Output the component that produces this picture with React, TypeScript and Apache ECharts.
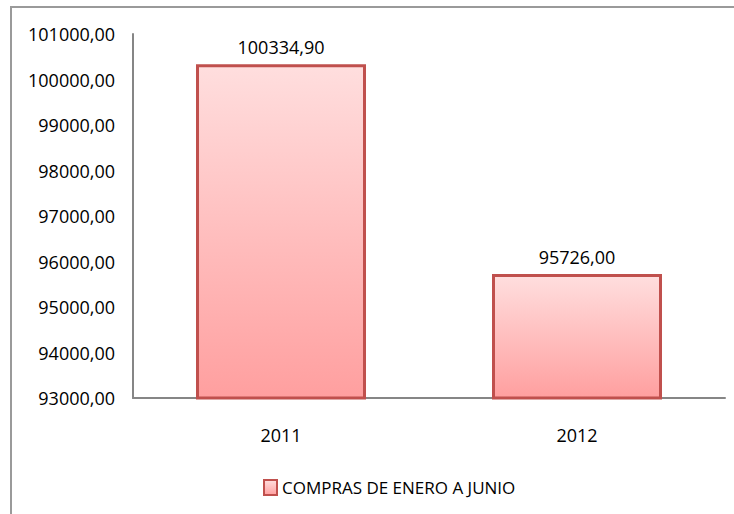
import React, { useEffect, useRef } from "react";
import * as echarts from "echarts";

const categories = ["2011", "2012"];
const seriesName = "COMPRAS DE ENERO A JUNIO";
const values = [100334.9, 95726.0];
const yMin = 93000;
const yMax = 101000;
const yInterval = 1000;

const fmt = (v: number) => v.toFixed(2).replace(".", ",");

export default function App() {
  const ref = useRef<HTMLDivElement>(null);
  useEffect(() => {
    const chart = echarts.init(ref.current!, null, { renderer: "svg" });
    const font = "'Open Sans', sans-serif";
    chart.setOption({
      animation: false,
      backgroundColor: "#ffffff",
      graphic: [
        {
          type: "rect",
          shape: { x: 11, y: 7, width: 800, height: 600 },
          style: { fill: "none", stroke: "#9a9a9a", lineWidth: 2 },
          silent: true,
        },
      ],
      grid: { left: 133, right: 9, top: 34, bottom: 116, containLabel: false },
      xAxis: {
        type: "category",
        data: categories,
        axisLine: { lineStyle: { color: "#868686", width: 2 } },
        axisTick: { show: false },
        axisLabel: { color: "#000", fontFamily: font, fontSize: 18, margin: 28 },
      },
      yAxis: {
        type: "value",
        min: yMin,
        max: yMax,
        interval: yInterval,
        axisLine: { show: true, lineStyle: { color: "#868686", width: 2 } },
        axisTick: { show: false },
        splitLine: { show: false },
        axisLabel: {
          color: "#000",
          fontFamily: font,
          fontSize: 18,
          margin: 18,
          padding: [4, 0, 0, 0],
          formatter: (v: number) => fmt(v),
        },
      },
      legend: {
        show: true,
        top: 474,
        left: 258,
        itemWidth: 13,
        itemHeight: 15,
        itemGap: 5,
        icon: "rect",
        textStyle: { color: "#000", fontFamily: font, fontSize: 17 },
        data: [seriesName],
      },
      series: [
        {
          name: seriesName,
          type: "bar",
          data: values,
          barWidth: 170,
          itemStyle: {
            color: new echarts.graphic.LinearGradient(0, 0, 0, 1, [
              { offset: 0, color: "#FFDEDE" },
              { offset: 1, color: "#FF9F9F" },
            ]),
            borderColor: "#C0504D",
            borderWidth: 3,
          },
          label: {
            show: true,
            position: "top",
            distance: 8,
            color: "#000",
            fontFamily: font,
            fontSize: 18,
            formatter: (p: any) => fmt(p.value),
          },
        },
      ],
    });
    return () => chart.dispose();
  }, []);
  return (
    <div
      ref={ref}
      style={{ position: "fixed", left: 0, top: 0, width: 734, height: 514 }}
    />
  );
}
